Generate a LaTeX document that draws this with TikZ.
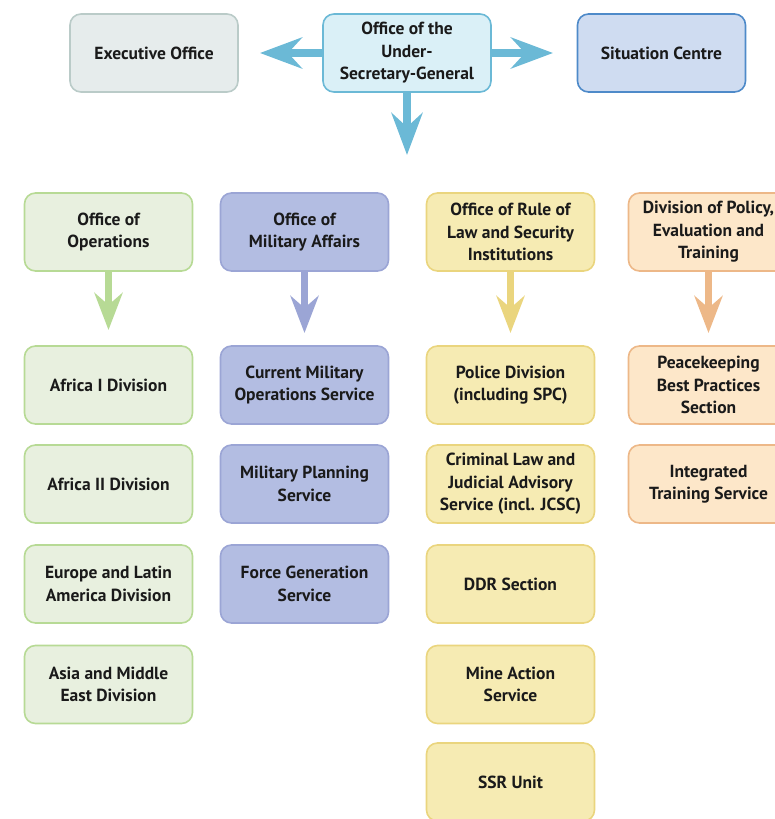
\documentclass[tikz,border=0pt]{standalone}
\usepackage{fontspec}
\setmainfont{PT Sans}
\usetikzlibrary{arrows.meta}

\definecolor{textdark}{HTML}{1A1A1A}
\definecolor{execfill}{HTML}{E6ECEC}
\definecolor{execline}{HTML}{BACBC8}
\definecolor{usgfill}{HTML}{DAF0F7}
\definecolor{usgline}{HTML}{6BB9D6}
\definecolor{sitfill}{HTML}{CFDCF1}
\definecolor{sitline}{HTML}{4E8AC9}
\definecolor{opsfill}{HTML}{E8F0DF}
\definecolor{opsline}{HTML}{B7DA95}
\definecolor{milfill}{HTML}{B3BDE2}
\definecolor{milline}{HTML}{9BA5D5}
\definecolor{rolfill}{HTML}{F6EBB3}
\definecolor{rolline}{HTML}{EAD57E}
\definecolor{polfill}{HTML}{FDE7C9}
\definecolor{polline}{HTML}{EDB888}

\begin{document}
\begin{tikzpicture}[x=1pt, y=-1pt, line width=1.6pt,
  font=\fontsize{17.5}{22.5}\selectfont\bfseries,
  unit/.style={draw, rounded corners=11pt, align=center, minimum width=168pt, minimum height=78pt, text=textdark},
  execbox/.style={unit, fill=execfill, draw=execline},
  usgbox/.style={unit, fill=usgfill, draw=usgline},
  sitbox/.style={unit, fill=sitfill, draw=sitline},
  opsbox/.style={unit, fill=opsfill, draw=opsline},
  milbox/.style={unit, fill=milfill, draw=milline},
  rolbox/.style={unit, fill=rolfill, draw=rolline},
  polbox/.style={unit, fill=polfill, draw=polline, minimum width=160pt},
  toparrow/.style={-{Stealth[length=42pt, width=31pt, inset=14pt]}, line width=8pt, draw=usgline},
  subarrow/.style={-{Stealth[length=37pt, width=28pt, inset=12pt]}, line width=7pt}]

\useasboundingbox (0,0) rectangle (775,819);
\clip (0,0) rectangle (775,819);

% top row
\node[execbox] (exec) at (154,53) {Executive Office};
\node[usgbox] (usg) at (407,53) {Office of the\\Under-\\Secretary-General};
\node[sitbox] (sit) at (661.5,53) {Situation Centre};

\coordinate (usgL) at (260,53);
\coordinate (usgR) at (553,53);
\coordinate (usgD) at (407,155);

\draw[toparrow] (usg.west) -- (usgL);
\draw[toparrow] (usg.east) -- (usgR);
\draw[toparrow] (usg.south) -- (usgD);

% offices
\node[opsbox] (ops) at (108.5,232) {Office of\\Operations};
\node[milbox] (mil) at (304.5,232) {Office of\\Military Affairs};
\node[rolbox] (rol) at (510.5,232) {Office of Rule of\\Law and Security\\Institutions};
\node[polbox] (pol) at (708.5,232) {Division of Policy,\\Evaluation and\\Training};

\coordinate (opsD) at (108.5,330);
\coordinate (milD) at (304.5,333);
\coordinate (rolD) at (510.5,333);
\coordinate (polD) at (708.5,333);

\draw[subarrow, draw=opsline] (ops.south) -- (opsD);
\draw[subarrow, draw=milline] (mil.south) -- (milD);
\draw[subarrow, draw=rolline] (rol.south) -- (rolD);
\draw[subarrow, draw=polline] (pol.south) -- (polD);

% Office of Operations
\node[opsbox] (afr1) at (108.5,385) {Africa I Division};
\node[opsbox] (afr2) at (108.5,484) {Africa II Division};
\node[opsbox] (eula) at (108.5,584) {Europe and Latin\\America Division};
\node[opsbox] (asme) at (108.5,684.5) {Asia and Middle\\East Division};

% Office of Military Affairs
\node[milbox] (cmos) at (304.5,385) {Current Military\\Operations Service};
\node[milbox] (mps) at (304.5,484) {Military Planning\\Service};
\node[milbox] (fgs) at (304.5,584) {Force Generation\\Service};

% Office of Rule of Law and Security Institutions
\node[rolbox] (police) at (510.5,385) {Police Division\\(including SPC)};
\node[rolbox] (cljas) at (510.5,484) {Criminal Law and\\Judicial Advisory\\Service (incl. JCSC)};
\node[rolbox] (ddr) at (510.5,584) {DDR Section};
\node[rolbox] (mine) at (510.5,684.5) {Mine Action\\Service};
\node[rolbox] (ssr) at (510.5,782) {SSR Unit};

% Division of Policy, Evaluation and Training
\node[polbox] (pbps) at (708.5,385) {Peacekeeping\\Best Practices\\Section};
\node[polbox] (its) at (708.5,484) {Integrated\\Training Service};
\end{tikzpicture}
\end{document}
